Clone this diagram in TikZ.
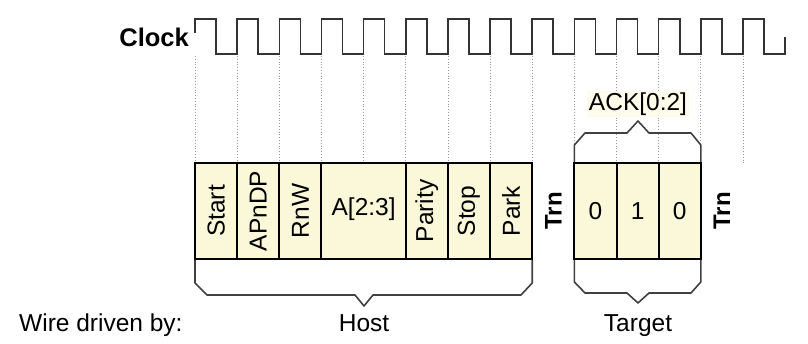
\documentclass[tikz,border=0pt]{standalone}
\usepackage{fontspec}
\setmainfont{Liberation Sans}
\definecolor{cellfill}{RGB}{250,248,216}
\definecolor{ackfill}{RGB}{253,252,234}
\begin{document}
\begin{tikzpicture}[x=1pt,y=-1pt,
  clk/.style={draw=black!80, line width=1.6pt, line join=miter},
  gridline/.style={draw=black!40, dotted, line width=0.8pt},
  cellbox/.style={draw=black, line width=2pt, fill=cellfill},
  bracket/.style={draw=black!75, line width=1.6pt, line join=round},
  lbl/.style={font=\fontsize{24.5}{27}\selectfont, inner sep=0pt},
  rot/.style={lbl, rotate=90},
  trn/.style={font=\fontsize{24}{26}\selectfont\bfseries, rotate=90, inner sep=0pt}]
\useasboundingbox (0,0) rectangle (808,344);
\def\p{42.15}
% dotted guide lines at rising edges
\foreach \k in {0,...,13}
  \draw[gridline] ({195+\k*\p},56) -- ({195+\k*\p},163);
% clock
\draw[clk] (195,33) -- (195,19)
  \foreach \k in {0,...,12} { -- ({195+\k*\p+0.5*\p},19) -- ({195+\k*\p+0.5*\p},54) -- ({195+(\k+1)*\p},54) -- ({195+(\k+1)*\p},19) }
  -- ({195+13.5*\p},19) -- ({195+13.5*\p},54) -- (785,54) -- (785,37);
\node[font=\fontsize{25.5}{28}\selectfont\bfseries, anchor=east, inner sep=0pt] (clock) at (189,37) {Clock};
% host cells
\foreach \a/\b/\t/\n in {0/1/Start/start,1/2/APnDP/apndp,2/3/RnW/rnw,5/6/Parity/parity,6/7/Stop/stop,7/8/Park/park}{
  \draw[cellbox] ({195+\a*\p},163) rectangle ({195+\b*\p},259);
  \node[rot] (\n) at ({195+(\a+\b)*\p/2},211) {\t};
}
\draw[cellbox] ({195+3*\p},163) rectangle ({195+5*\p},259);
\node[lbl] (addr) at ({195+4*\p},209) {A[2:3]};
% target cells
\foreach \a/\t/\n in {9/0/ackzero,10/1/ackone,11/0/acktwo}{
  \draw[cellbox] ({195+\a*\p},163) rectangle ({195+(\a+1)*\p},259);
  \node[lbl] (\n) at ({195+(\a+0.5)*\p},211) {\t};
}
% turnaround labels
\node[trn] (trnA) at ({195+8.5*\p},211) {Trn};
\node[trn] (trnB) at ({195+12.5*\p},211) {Trn};
% braces
\draw[bracket] (195,260) -- (195,283) -- (207,295) -- (355,295) -- (364,306) -- (373,295) -- (521,295) -- (532.2,283) -- (532.2,260);
\draw[bracket] (574.4,162) -- (574.4,145) -- (585,133) -- (627,133) -- (638,121) -- (649,133) -- (691,133) -- (700.8,145) -- (700.8,162);
\draw[bracket] (574.4,260) -- (574.4,282) -- (585,293) -- (627,293) -- (638,303) -- (649,293) -- (691,293) -- (700.8,282) -- (700.8,260);
\node[lbl, fill=ackfill, inner sep=1.5pt] (ack) at (638,104) {ACK[0:2]};
% bottom labels
\node[lbl, anchor=base west] (wire) at (19,331) {Wire driven by:};
\node[lbl, anchor=base] (host) at (364,331) {Host};
\node[lbl, anchor=base] (target) at (638,331) {Target};
\end{tikzpicture}
\end{document}
